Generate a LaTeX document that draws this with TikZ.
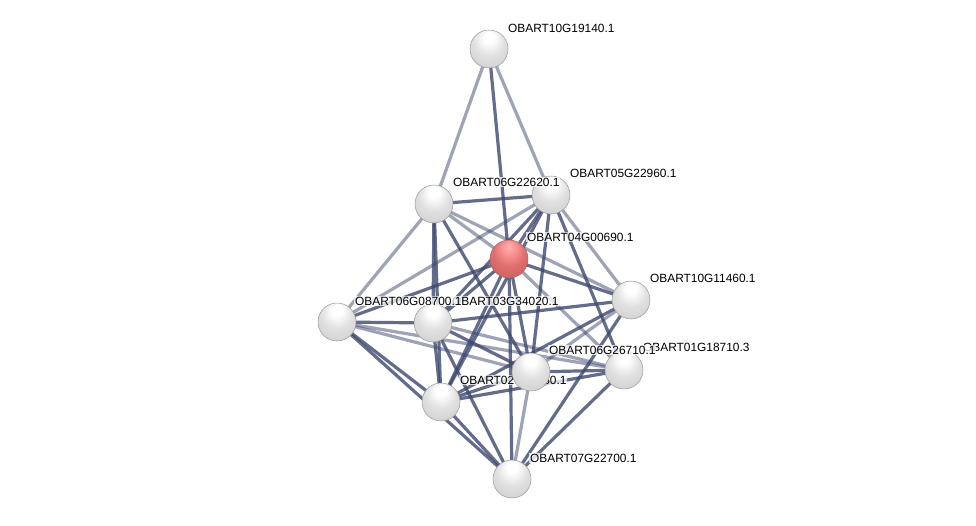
\documentclass[tikz,border=0pt]{standalone}
\usepackage{fontspec}
\setmainfont{Liberation Sans}
\pgfdeclareradialshading{wsphere}{\pgfpoint{0bp}{18bp}}{color(0bp)=(white); color(7bp)=(white); color(20bp)=(black!12); color(38bp)=(black!20); color(46bp)=(black!28); color(50bp)=(black!50)}
\pgfdeclareradialshading{rsphere}{\pgfpoint{0bp}{18bp}}{color(0bp)=(white!70!red); color(7bp)=(white!60!red); color(20bp)=(red!50!white!88!black); color(38bp)=(red!55!white!78!black); color(46bp)=(red!55!white!68!black); color(50bp)=(red!45!black!80)}
\definecolor{edgecol}{RGB}{62,72,110}
\begin{document}
\begin{tikzpicture}[x=1pt,y=-1pt,
  prot/.style={circle,minimum size=38pt,inner sep=0pt,shading=wsphere,draw=black!40,line width=0.5pt},
  qprot/.style={prot,shading=rsphere,draw=red!40!black!60},
  lbl/.style={anchor=west,font=\fontsize{11.9pt}{13pt}\selectfont,inner sep=1pt,fill=white,fill opacity=0.75,text opacity=1},
  ed/.style={draw=edgecol,line width=3.2pt,opacity=0.8},
  edl/.style={draw=edgecol,line width=3.2pt,opacity=0.5}]
\useasboundingbox (0,0) rectangle (976,525);
\fill[white] (0,0) rectangle (976,525);
% coordinates
\coordinate (A) at (489,49);
\coordinate (B) at (434,204);
\coordinate (C) at (551,195);
\coordinate (D) at (509,259);
\coordinate (E) at (631,300);
\coordinate (F) at (337,322);
\coordinate (G) at (433,323);
\coordinate (H) at (531,372);
\coordinate (I) at (624,370);
\coordinate (J) at (441,402);
\coordinate (K) at (512,479);
% edges
\draw[edl] (A) -- (B);
\draw[edl] (A) -- (C);
\draw[ed] (A) -- (D);
\draw[ed] (B) -- (C);
\draw[edl] (B) -- (D);
\draw[edl] (B) -- (F);
\draw[ed] (B) -- (G);
\draw[ed] (B) -- (J);
\draw[ed] (B) -- (H);
\draw[edl] (B) -- (E);
\draw[ed] (C) -- (D);
\draw[edl] (C) -- (F);
\draw[ed] (C) -- (G);
\draw[ed] (C) -- (H);
\draw[edl] (C) -- (E);
\draw[ed] (C) -- (I);
\draw[ed] (C) -- (J);
\draw[ed] (D) -- (E);
\draw[ed] (D) -- (F);
\draw[ed] (D) -- (G);
\draw[ed] (D) -- (H);
\draw[edl] (D) -- (I);
\draw[ed] (D) -- (J);
\draw[ed] (D) -- (K);
\draw[ed] (E) -- (G);
\draw[edl] (E) -- (H);
\draw[ed] (E) -- (J);
\draw[ed] (E) -- (K);
\draw[ed] (F) -- (G);
\draw[edl] (F) -- (H);
\draw[edl] (F) -- (I);
\draw[ed] (F) -- (J);
\draw[ed] (F) -- (K);
\draw[ed] (G) -- (H);
\draw[edl] (G) -- (I);
\draw[ed] (G) -- (J);
\draw[ed] (G) -- (K);
\draw[ed] (H) -- (I);
\draw[ed] (H) -- (J);
\draw[edl] (H) -- (K);
\draw[ed] (I) -- (J);
\draw[ed] (I) -- (K);
\draw[ed] (J) -- (K);
% nodes and labels
\node[prot] (nA) at (A) {};
\node[lbl] (lA) at ([xshift=18pt,yshift=21pt]A) {OBART10G19140.1};
\node[prot] (nC) at (C) {};
\node[lbl] (lC) at ([xshift=18pt,yshift=22pt]C) {OBART05G22960.1};
\node[prot] (nB) at (B) {};
\node[lbl] (lB) at ([xshift=18pt,yshift=22pt]B) {OBART06G22620.1};
\node[qprot] (nD) at (D) {};
\node[lbl] (lD) at ([xshift=17pt,yshift=22pt]D) {OBART04G00690.1};
\node[prot] (nE) at (E) {};
\node[lbl] (lE) at ([xshift=18pt,yshift=22pt]E) {OBART10G11460.1};
\node[prot] (nI) at (I) {};
\node[lbl] (lI) at ([xshift=18pt,yshift=23pt]I) {OBART01G18710.3};
\node[prot] (nG) at (G) {};
\node[lbl] (lG) at ([xshift=18pt,yshift=22pt]G) {OBART03G34020.1};
\node[prot] (nF) at (F) {};
\node[lbl] (lF) at ([xshift=17pt,yshift=21pt]F) {OBART06G08700.1};
\node[prot] (nJ) at (J) {};
\node[lbl] (lJ) at ([xshift=18pt,yshift=22pt]J) {OBART02G44350.1};
\node[prot] (nH) at (H) {};
\node[lbl] (lH) at ([xshift=17pt,yshift=22pt]H) {OBART06G26710.1};
\node[prot] (nK) at (K) {};
\node[lbl] (lK) at ([xshift=17pt,yshift=21pt]K) {OBART07G22700.1};
\end{tikzpicture}
\end{document}
